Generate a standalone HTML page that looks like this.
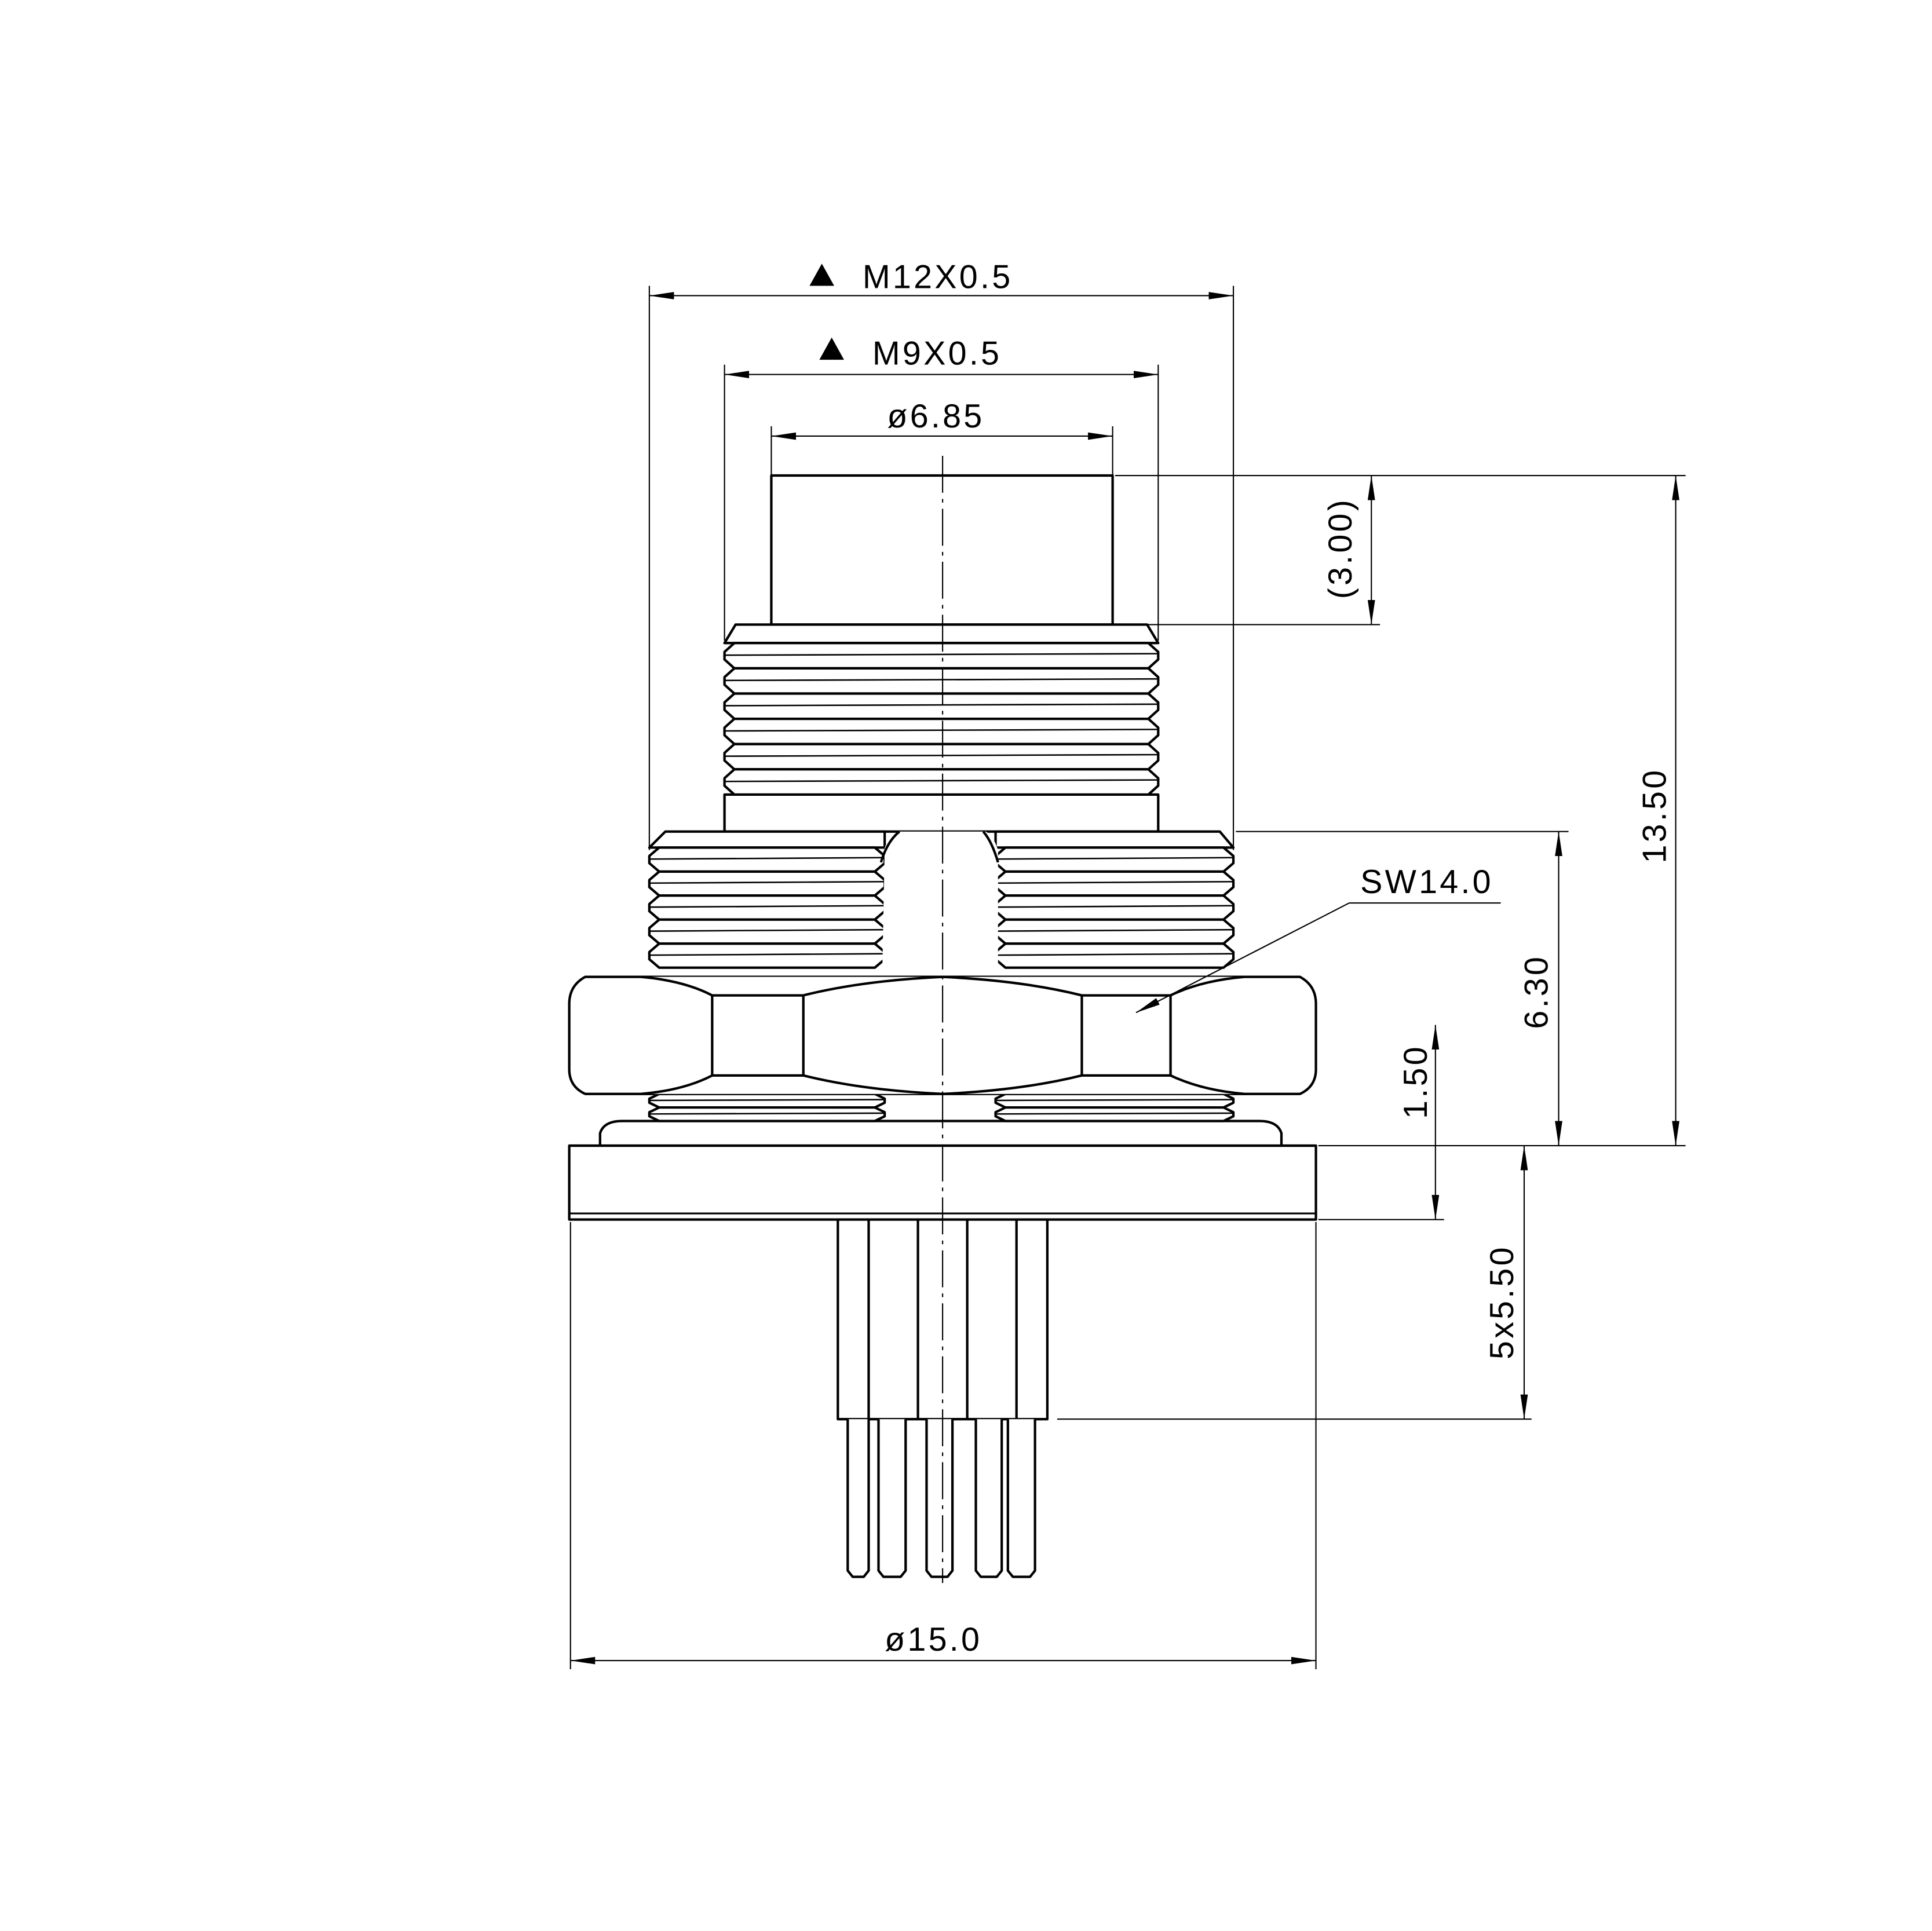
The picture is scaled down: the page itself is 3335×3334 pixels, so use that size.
<!DOCTYPE html>
<html><head><meta charset="utf-8"><style>html,body{margin:0;padding:0;background:#fff}svg{display:block}</style></head>
<body>
<svg id="s" xmlns="http://www.w3.org/2000/svg" width="3335" height="3334" viewBox="0 0 1568 1567.5">
<defs>
<marker id="a" viewBox="0 0 20 6" refX="20" refY="3" markerWidth="20" markerHeight="6" markerUnits="userSpaceOnUse" orient="auto-start-reverse"><path d="M0,0 L20,3 L0,6 Z" fill="#000"/></marker>
</defs>
<rect width="1568" height="1568" fill="#fff"/>
<g id="body" fill="#fff" stroke="#000" stroke-width="2" stroke-linejoin="round">
<rect x="626" y="386" width="277" height="121"/>
<rect x="588" y="645" width="352" height="30"/>
<path d="M487,930 L487,920 Q490,910 505,910 L1022,910 Q1037,910 1040,920 L1040,930"/>
<rect x="462" y="930" width="606" height="60"/>
<line x1="462" y1="985" x2="1068" y2="985" stroke-width="1.5"/>
<rect x="680" y="990" width="170" height="162"/>
<line x1="705" y1="990" x2="705" y2="1152"/>
<line x1="745" y1="990" x2="745" y2="1152"/>
<line x1="785" y1="990" x2="785" y2="1152"/>
<line x1="825" y1="990" x2="825" y2="1152"/>
<path d="M688,1152 V1275 L692,1280 H701 L705,1275 V1152"/>
<path d="M713,1152 V1275 L717,1280 H731 L735,1275 V1152"/>
<path d="M752,1152 V1275 L756,1280 H769 L773,1275 V1152"/>
<path d="M792,1152 V1275 L796,1280 H809 L813,1275 V1152"/>
<path d="M818,1152 V1275 L822,1280 H836 L840,1275 V1152"/>
</g>
<g id="thr" fill="#fff" stroke="#000" stroke-width="2" stroke-linejoin="round"></g>
<g id="nut" fill="#fff" stroke="#000" stroke-width="2" stroke-linejoin="round">
<path d="M475,793 L1055,793 Q1068,800 1068,815 L1068,868 Q1068,882 1055,888 L475,888 Q462,882 462,868 L462,815 Q462,800 475,793 Z"/>
<path d="M520,793 Q555,796 578,808 L652,808 Q700,796 765,793 Q830,796 878,808 L950,808 Q975,796 1010,793"/>
<path d="M520,888 Q555,885 578,873 L652,873 Q700,885 765,888 Q830,885 878,873 L950,873 Q975,885 1010,888"/>
<line x1="578" y1="808" x2="578" y2="873"/>
<line x1="652" y1="808" x2="652" y2="873"/>
<line x1="878" y1="808" x2="878" y2="873"/>
<line x1="950" y1="808" x2="950" y2="873"/>
</g>
<g id="dims" fill="none" stroke="#000" stroke-width="1">
<line x1="527" y1="232" x2="527" y2="690"/>
<line x1="1001" y1="232" x2="1001" y2="690"/>
<line x1="588" y1="296" x2="588" y2="520"/>
<line x1="940" y1="296" x2="940" y2="520"/>
<line x1="626" y1="346" x2="626" y2="386"/>
<line x1="903" y1="346" x2="903" y2="386"/>
<line x1="905" y1="386" x2="1368" y2="386"/>
<line x1="930" y1="507" x2="1120" y2="507"/>
<line x1="1003" y1="675" x2="1273" y2="675"/>
<line x1="1070" y1="930" x2="1368" y2="930"/>
<line x1="1070" y1="990" x2="1172" y2="990"/>
<line x1="858" y1="1152" x2="1243" y2="1152"/>
<line x1="463" y1="992" x2="463" y2="1355"/>
<line x1="1068" y1="992" x2="1068" y2="1355"/>
<line x1="527" y1="240" x2="1001" y2="240" marker-start="url(#a)" marker-end="url(#a)"/>
<line x1="588" y1="304" x2="940" y2="304" marker-start="url(#a)" marker-end="url(#a)"/>
<line x1="626" y1="354" x2="903" y2="354" marker-start="url(#a)" marker-end="url(#a)"/>
<line x1="1360" y1="386" x2="1360" y2="930" marker-start="url(#a)" marker-end="url(#a)"/>
<line x1="1265" y1="675" x2="1265" y2="930" marker-start="url(#a)" marker-end="url(#a)"/>
<line x1="1113" y1="386" x2="1113" y2="507" marker-start="url(#a)" marker-end="url(#a)"/>
<line x1="1165" y1="832" x2="1165" y2="990" marker-start="url(#a)" marker-end="url(#a)"/>
<line x1="1237" y1="930" x2="1237" y2="1152" marker-start="url(#a)" marker-end="url(#a)"/>
<line x1="463" y1="1348" x2="1068" y2="1348" marker-start="url(#a)" marker-end="url(#a)"/>
<line x1="1095" y1="733" x2="1218" y2="733"/>
<line x1="1095" y1="733" x2="922" y2="822" marker-end="url(#a)"/>
<line x1="765" y1="370" x2="765" y2="1285" stroke-dasharray="30,5,3,5"/>
</g>
<g id="txt" font-family="Liberation Sans, sans-serif" font-size="27" fill="#000" letter-spacing="2">
<path d="M657,232 L667,214 L677,232 Z"/>
<text x="700" y="234">M12X0.5</text>
<path d="M665,292 L675,274 L685,292 Z"/>
<text x="708" y="296">M9X0.5</text>
<text x="720" y="347">ø6.85</text>
<text x="1104" y="725">SW14.0</text>
<text x="718" y="1340">ø15.0</text>
<text transform="translate(1352,662) rotate(-90)" text-anchor="middle">13.50</text>
<text transform="translate(1256,805) rotate(-90)" text-anchor="middle">6.30</text>
<text transform="translate(1097,445) rotate(-90)" text-anchor="middle">(3.00)</text>
<text transform="translate(1158,878) rotate(-90)" text-anchor="middle">1.50</text>
<text transform="translate(1228,1057) rotate(-90)" text-anchor="middle">5x5.50</text>
</g>
</svg>
<script>
var g=document.getElementById('thr'),NS='http://www.w3.org/2000/svg';
function P(d,f){var p=document.createElementNS(NS,'path');p.setAttribute('d',d);if(f)for(var k in f)p.setAttribute(k,f[k]);g.appendChild(p);}
function band(xo,xi,xro,xri,y0,p,n){
 for(var i=0;i<n;i++){var y=y0+i*p;
  P('M'+xi+','+y+' L'+xri+','+y+' L'+xro+','+(y+p*0.35)+' L'+xro+','+(y+p*0.65)+' L'+xri+','+(y+p)+' L'+xi+','+(y+p)+' L'+xo+','+(y+p*0.65)+' L'+xo+','+(y+p*0.35)+' Z');
  var l=document.createElementNS(NS,'line');l.setAttribute('x1',xo);l.setAttribute('x2',xro);l.setAttribute('y1',y+p*0.48);l.setAttribute('y2',y+p*0.42);l.setAttribute('stroke-width','1.2');g.appendChild(l);
 }
}
P('M597,507 L931,507 L940,522 L588,522 Z');
band(588,596,940,932,522,20.5,6);
P('M540,675 L718,675 L718,688 L527,688 Z');
P('M808,675 L990,675 L1001,688 L808,688 Z');
band(527,535,718,710,688,19.5,5);
band(808,816,1001,993,688,19.5,5);
// notch: white fill, curved top edges
P('M718,688 Q722,678 730,675 L800,675 Q806,678 810,690 L810,792 L716,792 Z',{stroke:'none'});
P('M715,700 Q720,683 730,675',{fill:'none'});
P('M810,700 Q805,683 798,675',{fill:'none'});
band(527,535,718,710,888,11,2);
band(808,816,1001,993,888,11,2);
var svg=document.getElementById('s');
svg.appendChild(document.getElementById('nut'));
svg.appendChild(document.getElementById('dims'));
svg.appendChild(document.getElementById('txt'));
</script>
</body></html>
